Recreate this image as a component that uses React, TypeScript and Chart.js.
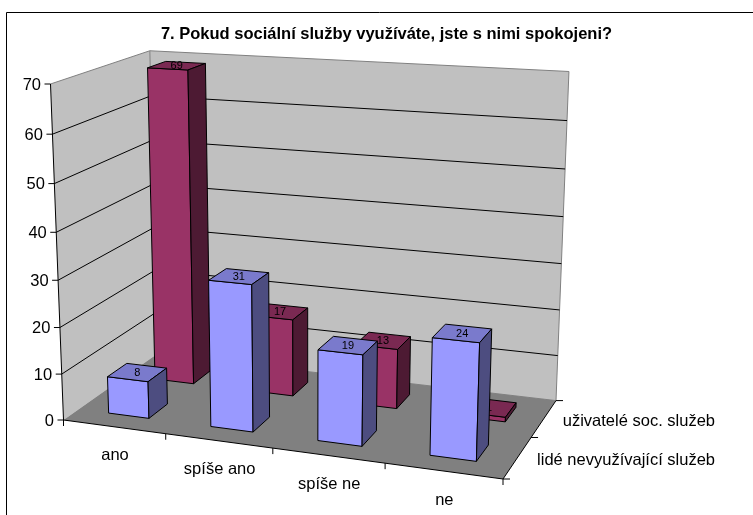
import React, { useEffect, useRef } from "react";
import { Chart, registerables } from "chart.js";

Chart.register(...registerables);

const chartTitle = "7. Pokud sociální služby využíváte, jste s nimi spokojeni?";
const categories = ["ano", "spíše ano", "spíše ne", "ne"];
const frontSeriesName = "lidé nevyužívající služeb";
const backSeriesName = "uživatelé soc. služeb";
const frontValues = [8, 31, 19, 24];
const backValues = [69, 17, 13, 1];
const valueMax = 70;
const valueStep = 10;

type Pt = [number, number];
type Vec = [number, number, number];

// Screen anchors of the 3D box (perspective calibration)
const O: Pt = [63.5, 420];
const U: Pt = [503, 479];
const V: Pt = [157, 354];
const UV: Pt = [556, 400.6];
const W: Pt = [50.5, 84];
const UVW: Pt = [569, 74];

const h = (p: Pt): Vec => [p[0], p[1], 1];

function solve3(c1: Vec, c2: Vec, c3: Vec, r: Vec): Vec {
  const m = [0, 1, 2].map((i) => [c1[i], c2[i], c3[i], r[i]]);
  for (let i = 0; i < 3; i++) {
    let p = i;
    for (let k = i + 1; k < 3; k++) if (Math.abs(m[k][i]) > Math.abs(m[p][i])) p = k;
    [m[i], m[p]] = [m[p], m[i]];
    for (let k = 0; k < 3; k++) {
      if (k === i) continue;
      const f = m[k][i] / m[i][i];
      for (let j = i; j < 4; j++) m[k][j] -= f * m[i][j];
    }
  }
  return [m[0][3] / m[0][0], m[1][3] / m[1][1], m[2][3] / m[2][2]];
}

const neg = (a: Vec): Vec => [-a[0], -a[1], -a[2]];
const [wa, wb, ws] = solve3(h(U), h(V), neg(h(UV)), h(O));

// weight of the height axis: best fit of the far top corner
function heightWeight(): number {
  const base: Vec = [ws * UV[0] - O[0], ws * UV[1] - O[1], ws - 1];
  let num = 0;
  let den = 0;
  for (const k of [0, 1]) {
    const A = W[k] - UVW[k];
    const B = UVW[k] * base[2] - base[k];
    num += A * B;
    den += A * A;
  }
  return num / den;
}
const wc = heightWeight();

function project(u: number, v: number, w: number): Pt {
  const out = [0, 0, 0];
  const ho = h(O), hu = h(U), hv = h(V), hw = h(W);
  for (let i = 0; i < 3; i++) {
    out[i] =
      ho[i] +
      u * (wa * hu[i] - ho[i]) +
      v * (wb * hv[i] - ho[i]) +
      w * (wc * hw[i] - ho[i]);
  }
  return [out[0] / out[2], out[1] / out[2]];
}

const FONT = "'Liberation Sans', Arial, sans-serif";

function poly(ctx: CanvasRenderingContext2D, pts: Pt[], fill: string | null, stroke: string | null) {
  ctx.beginPath();
  pts.forEach((p, i) => (i ? ctx.lineTo(p[0], p[1]) : ctx.moveTo(p[0], p[1])));
  ctx.closePath();
  if (fill) {
    ctx.fillStyle = fill;
    ctx.fill();
  }
  if (stroke) {
    ctx.strokeStyle = stroke;
    ctx.lineWidth = 1;
    ctx.stroke();
  }
}

function line(ctx: CanvasRenderingContext2D, a: Pt, b: Pt, color: string) {
  ctx.beginPath();
  ctx.moveTo(a[0], a[1]);
  ctx.lineTo(b[0], b[1]);
  ctx.strokeStyle = color;
  ctx.lineWidth = 1;
  ctx.stroke();
}

function shade(hex: string, k: number) {
  const n = parseInt(hex.slice(1), 16);
  const c = [(n >> 16) & 255, (n >> 8) & 255, n & 255].map((x) => Math.round(x * k));
  return `rgb(${c[0]},${c[1]},${c[2]})`;
}

const box3d = {
  id: "box3d",
  beforeDatasetsDraw(chart: any) {
    const ctx: CanvasRenderingContext2D = chart.ctx;
    const ys = chart.scales.y;
    const area = chart.chartArea;
    const wOf = (val: number) => (area.bottom - ys.getPixelForValue(val)) / (area.bottom - area.top);
    ctx.save();

    // outer frame: only left and top are in the picture
    line(ctx, [6.5, 515], [6.5, 12.5], "#000");
    line(ctx, [6.5, 12.5], [753, 12.5], "#000");

    // walls and floor
    poly(ctx, [project(0, 0, 0), project(0, 1, 0), project(0, 1, 1), project(0, 0, 1)], "#C0C0C0", null);
    poly(ctx, [project(0, 1, 0), project(1, 1, 0), project(1, 1, 1), project(0, 1, 1)], "#C0C0C0", null);
    poly(ctx, [project(0, 0, 0), project(1, 0, 0), project(1, 1, 0), project(0, 1, 0)], "#808080", null);

    // wall edges
    line(ctx, project(0, 0, 1), project(0, 1, 1), "#808080");
    line(ctx, project(0, 1, 1), project(1, 1, 1), "#808080");
    line(ctx, project(0, 1, 1), project(0, 1, 0), "#808080");
    line(ctx, project(1, 1, 1), project(1, 1, 0), "#808080");
    line(ctx, project(0, 1, 0), project(1, 1, 0), "#808080");

    // value grid, ticks and labels
    ctx.font = `16.5px ${FONT}`;
    ctx.fillStyle = "#000";
    ctx.textAlign = "right";
    ctx.textBaseline = "middle";
    ys.ticks.forEach((t: any) => {
      const w = wOf(t.value);
      const a = project(0, 0, w);
      if (t.value > 0 && t.value < valueMax) {
        line(ctx, a, project(0, 1, w), "#000");
        line(ctx, project(0, 1, w), project(1, 1, w), "#000");
      }
      line(ctx, [a[0] - 6, a[1]], a, "#000");
      ctx.fillStyle = "#000";
      ctx.fillText(String(t.label), a[0] - 9.5, a[1] + 1);
    });

    // axes
    line(ctx, project(0, 0, 1), project(0, 0, 0), "#000");
    line(ctx, project(0, 0, 0), project(1, 0, 0), "#000");
    line(ctx, project(1, 0, 0), project(1, 1, 0), "#000");

    // category ticks and labels
    const n = chart.data.labels.length;
    ctx.textAlign = "center";
    for (let i = 0; i <= n; i++) {
      const p = project(i / n, 0, 0);
      line(ctx, p, [p[0], p[1] + 6], "#000");
    }
    chart.data.labels.forEach((lab: string, i: number) => {
      const p = project((i + 0.5) / n, 0, 0);
      ctx.fillStyle = "#000";
      ctx.fillText(lab, p[0] + 1, p[1] + 29);
    });

    // depth ticks and series labels
    const seriesCount = chart.data.datasets.length;
    for (let i = 0; i <= seriesCount; i++) {
      const p = project(1, i / seriesCount, 0);
      line(ctx, p, [p[0] + 7, p[1]], "#000");
    }
    ctx.textAlign = "right";
    chart.data.datasets.forEach((ds: any, i: number) => {
      const p = project(1, (i + 0.5) / seriesCount, 0);
      ctx.fillStyle = "#000";
      ctx.fillText(ds.label, 715, p[1] + 2.5);
    });
    ctx.restore();
  },
  beforeDatasetDraw(chart: any, args: any) {
    const ctx: CanvasRenderingContext2D = chart.ctx;
    const area = chart.chartArea;
    const seriesCount = chart.data.datasets.length;
    const ds = chart.data.datasets[args.index];
    const vc = (args.index + 0.5) / seriesCount;
    const vHalf = (0.4 / seriesCount) / 2;
    const v0 = vc - vHalf;
    const v1 = vc + vHalf;
    ctx.save();
    args.meta.data.forEach((el: any, i: number) => {
      const u0 = (el.x - el.width / 2 - area.left) / area.width;
      const u1 = (el.x + el.width / 2 - area.left) / area.width;
      const w = (el.base - el.y) / (area.bottom - area.top);
      const col = ds.backgroundColor as string;
      poly(ctx, [project(u0, v0, 0), project(u1, v0, 0), project(u1, v0, w), project(u0, v0, w)], col, "#000");
      poly(ctx, [project(u0, v0, w), project(u1, v0, w), project(u1, v1, w), project(u0, v1, w)], shade(col, 0.8), "#000");
      poly(ctx, [project(u1, v0, 0), project(u1, v1, 0), project(u1, v1, w), project(u1, v0, w)], shade(col, 0.5), "#000");
      const c = project((u0 + u1) / 2, vc, w);
      ctx.font = `11px ${FONT}`;
      ctx.fillStyle = "#000";
      ctx.textAlign = "center";
      ctx.textBaseline = "middle";
      ctx.fillText(String(ds.data[i]), c[0], c[1] + 0.5);
    });
    ctx.restore();
    return false;
  },
};

export default function App() {
  const ref = useRef<HTMLCanvasElement>(null);
  useEffect(() => {
    document.body.style.margin = "0";
    const chart = new Chart(ref.current!, {
      type: "bar",
      data: {
        labels: categories,
        datasets: [
          { label: frontSeriesName, data: frontValues, backgroundColor: "#9999FF", grouped: false },
          { label: backSeriesName, data: backValues, backgroundColor: "#993366", grouped: false },
        ] as any,
      },
      options: {
        responsive: false,
        animation: false,
        layout: { padding: { left: 20, right: 0, top: 25, bottom: 95 } },
        datasets: { bar: { categoryPercentage: 1, barPercentage: 0.4 } } as any,
        scales: {
          x: { display: false, grid: { display: false } },
          y: { display: false, min: 0, max: valueMax, ticks: { stepSize: valueStep } },
        },
        plugins: {
          legend: { display: false },
          tooltip: { enabled: false },
          title: {
            display: true,
            text: chartTitle,
            fullSize: false,
            color: "#000",
            font: { family: FONT, size: 16.5, weight: "bold" },
            padding: { top: 0, bottom: 39 },
          },
        },
      } as any,
      plugins: [box3d],
    });
    return () => chart.destroy();
  }, []);
  return <canvas ref={ref} width={753} height={515} style={{ display: "block" }} />;
}
